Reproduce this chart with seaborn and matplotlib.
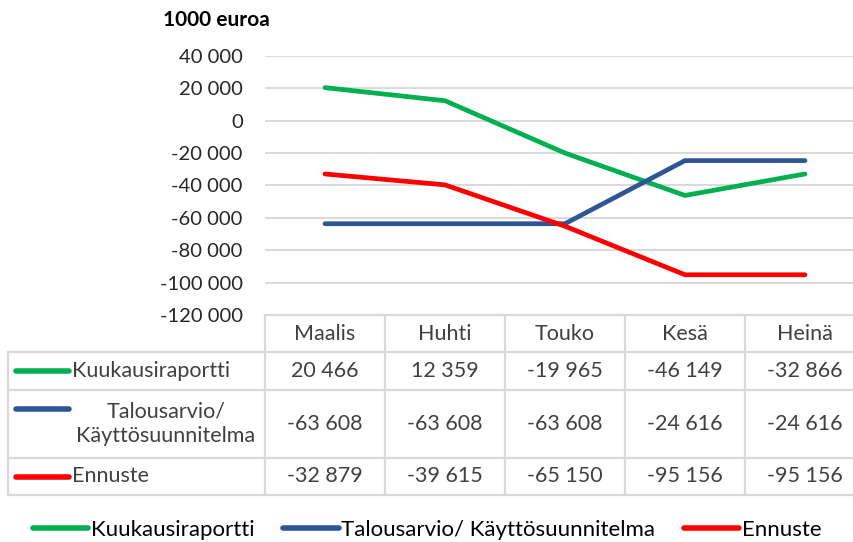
import matplotlib
matplotlib.use('Agg')
import matplotlib.pyplot as plt
from matplotlib.lines import Line2D
from matplotlib.ticker import FuncFormatter, MultipleLocator
import pandas as pd
import seaborn as sns

# --- Data ---
kuukaudet = ["Maalis", "Huhti", "Touko", "Kesä", "Heinä"]
kuukausiraportti = [20466, 12359, -19965, -46149, -32866]
talousarvio = [-63608, -63608, -63608, -24616, -24616]
ennuste = [-32879, -39615, -65150, -95156, -95156]

sarjat = ["Kuukausiraportti", "Talousarvio/ Käyttösuunnitelma", "Ennuste"]
taulukko_nimet = ["Kuukausiraportti", "Talousarvio/\nKäyttösuunnitelma", "Ennuste"]
varit = ["#00B050", "#2F5597", "#FF0000"]

df = pd.DataFrame({
    "kuukausi": kuukaudet * 3,
    "arvo": kuukausiraportti + talousarvio + ennuste,
    "sarja": [s for s in sarjat for _ in kuukaudet],
})

sns.set_style("white")
plt.rcParams['font.family'] = ['Lato', 'DejaVu Sans']


def fmt(v):
    return f"{int(round(v)):,}".replace(",", " ")


W, H = 854, 542
fig = plt.figure(figsize=(W / 100, H / 100), dpi=100)

# plot area (pixel layout)
left, right, top, bottom = 265, 854, 56, 315
col_w = 120
ax = fig.add_axes([left / W, 1 - bottom / H, (right - left) / W, (bottom - top) / H])

sns.lineplot(data=df, x="kuukausi", y="arvo", hue="sarja", palette=dict(zip(sarjat, varit)),
             linewidth=3.4, sort=False, legend=False, ax=ax, solid_capstyle="round")

ax.set_xlim(-0.5, -0.5 + (right - left) / col_w)
ax.set_ylim(-120000, 40000)
ax.yaxis.set_major_locator(MultipleLocator(20000))
ax.yaxis.set_major_formatter(FuncFormatter(lambda v, p: fmt(v)))
ax.yaxis.grid(True, color="#D9D9D9", linewidth=1.4)
ax.set_axisbelow(True)
ax.set_xticks([])
ax.set_xlabel("")
ax.set_ylabel("")
ax.tick_params(axis="y", length=0, pad=16, labelsize=14.5, labelcolor="#262626")
for s in ax.spines.values():
    s.set_visible(False)

fig.text(163 / W, 1 - 20 / H, "1000 euroa", fontsize=15, fontweight="bold",
         va="center", ha="left", color="#000000")

# --- data table under the chart ---
tab = fig.add_axes([0, 0, 1, 1])
tab.set_xlim(0, W)
tab.set_ylim(H, 0)
tab.axis("off")

grid_c = "#D9D9D9"
row_edges = [315, 352, 390, 458, 495]
col_edges = [left + col_w * i for i in range(len(kuukaudet) + 1)]
label_left = 8

tab.plot([left, W], [row_edges[0]] * 2, color=grid_c, lw=1.6)
for y in row_edges[1:]:
    tab.plot([label_left, W], [y, y], color=grid_c, lw=1.6)
tab.plot([label_left, label_left], [row_edges[1], row_edges[-1]], color=grid_c, lw=1.6)
for x in col_edges[:-1]:
    tab.plot([x, x], [row_edges[0], row_edges[-1]], color=grid_c, lw=1.6)

txt_c = "#404040"
fs = 15.5
for i, k in enumerate(kuukaudet):
    cx = left + col_w * i + col_w / 2
    tab.text(cx, (row_edges[0] + row_edges[1]) / 2, k, ha="center", va="center",
             fontsize=fs, color=txt_c)

rivit = [kuukausiraportti, talousarvio, ennuste]
for r, (nimi, arvot, vari) in enumerate(zip(taulukko_nimet, rivit, varit)):
    y0, y1 = row_edges[r + 1], row_edges[r + 2]
    cy = (y0 + y1) / 2
    for i, v in enumerate(arvot):
        cx = left + col_w * i + col_w / 2
        tab.text(cx, cy, fmt(v), ha="center", va="center", fontsize=fs, color=txt_c)
    if "\n" in nimi:
        key_y = y0 + 19
        tab.text(166, cy, nimi, ha="center", va="center", fontsize=fs, color=txt_c,
                 linespacing=1.3)
    else:
        key_y = cy
        tab.text(72, cy, nimi, ha="left", va="center", fontsize=fs, color=txt_c)
    tab.plot([16, 69], [key_y, key_y], color=vari, lw=4, solid_capstyle="round")

# --- legend ---
handles = [Line2D([0], [0], color=c, lw=4, solid_capstyle="round") for c in varit]
fig.legend(handles, sarjat, loc="center", bbox_to_anchor=(0.5, 1 - 530 / H), ncol=3,
           frameon=False, fontsize=16, handlelength=2.5, handletextpad=0.1,
           columnspacing=1.3, labelcolor="#000000")

fig.savefig("out.png", dpi=100)
